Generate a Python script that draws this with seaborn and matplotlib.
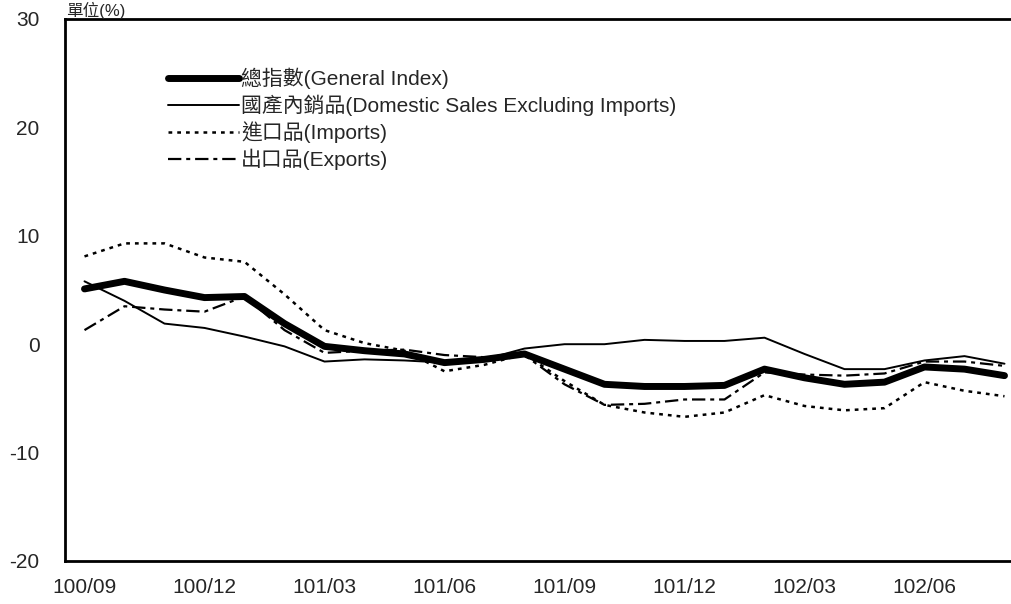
import numpy as np
import pandas as pd
import seaborn as sns
import matplotlib.pyplot as plt

# months (ROC year/month), 100/09 .. 102/08
months = ['100/09', '100/10', '100/11', '100/12', '101/01', '101/02', '101/03', '101/04',
          '101/05', '101/06', '101/07', '101/08', '101/09', '101/10', '101/11', '101/12',
          '102/01', '102/02', '102/03', '102/04', '102/05', '102/06', '102/07', '102/08']

general = [5.1, 5.8, 5.0, 4.3, 4.4, 1.9, -0.2, -0.6, -0.9, -1.7, -1.4, -0.9,
           -2.3, -3.7, -3.9, -3.9, -3.8, -2.3, -3.1, -3.7, -3.5, -2.1, -2.3, -2.9]
domestic = [5.8, 4.0, 1.9, 1.5, 0.7, -0.2, -1.6, -1.4, -1.5, -1.7, -1.4, -0.4,
            0.0, 0.0, 0.4, 0.3, 0.3, 0.6, -0.9, -2.3, -2.3, -1.5, -1.1, -1.8]
imports = [8.1, 9.3, 9.3, 8.0, 7.6, 4.6, 1.3, 0.1, -0.6, -2.5, -1.9, -0.9,
           -3.4, -5.6, -6.3, -6.7, -6.3, -4.7, -5.7, -6.1, -5.9, -3.5, -4.3, -4.8]
exports = [1.3, 3.5, 3.2, 3.0, 4.4, 1.3, -0.8, -0.6, -0.5, -1.0, -1.2, -1.0,
           -3.7, -5.6, -5.5, -5.1, -5.1, -2.6, -2.8, -2.9, -2.7, -1.6, -1.6, -2.0]

labels = ['總指數(General Index)',
          '國產內銷品(Domestic Sales Excluding Imports)',
          '進口品(Imports)',
          '出口品(Exports)']

sns.set_style('white')
plt.rcParams['font.family'] = ['Liberation Sans', 'Noto Sans CJK TC']
plt.rcParams['axes.unicode_minus'] = False

fig = plt.figure(figsize=(10.11, 6.04), dpi=100)
ax = fig.add_axes([64.5 / 1011, 43 / 604, 960 / 1011, 542 / 604])

x = np.arange(len(months))
series = [
    (general, 5.0, '-'),
    (domestic, 1.4, '-'),
    (imports, 1.8, (0, (1.5, 2.0))),
    (exports, 1.6, (0, (6.0, 2.2, 1.8, 2.2))),
]
for (vals, lw, ls), lab in zip(series, labels):
    sns.lineplot(x=x, y=vals, ax=ax, color='black', linewidth=lw, linestyle=ls, label=lab)

ax.set_xlim(-0.5, len(months) - 0.5)
ax.set_ylim(-20, 30)
ax.set_yticks([-20, -10, 0, 10, 20, 30])
ax.tick_params(axis='y', direction='in', length=6, width=1, pad=18, labelsize=15)

# labels every 3 months, tick marks between categories
ax.set_xticks(x[::3])
ax.set_xticklabels(months[::3])
ax.set_xticks(np.arange(len(months)) + 0.5, minor=True)
ax.tick_params(axis='x', which='major', length=0, pad=12, labelsize=15)
ax.tick_params(axis='x', which='minor', direction='in', length=7, width=1)

for side in ['left', 'bottom', 'top', 'right']:
    ax.spines[side].set_linewidth(2)
    ax.spines[side].set_color('black')

leg = ax.legend(loc='upper left', bbox_to_anchor=(0.108, 0.91), frameon=False,
                fontsize=15, handlelength=3.4, handletextpad=0.1, labelspacing=0.26,
                borderpad=0, borderaxespad=0)

fig.text(66 / 1011, 1.0 - 2 / 604, '單位(%)', fontsize=12, ha='left', va='top')

fig.savefig('out.png', dpi=100, facecolor='white')
